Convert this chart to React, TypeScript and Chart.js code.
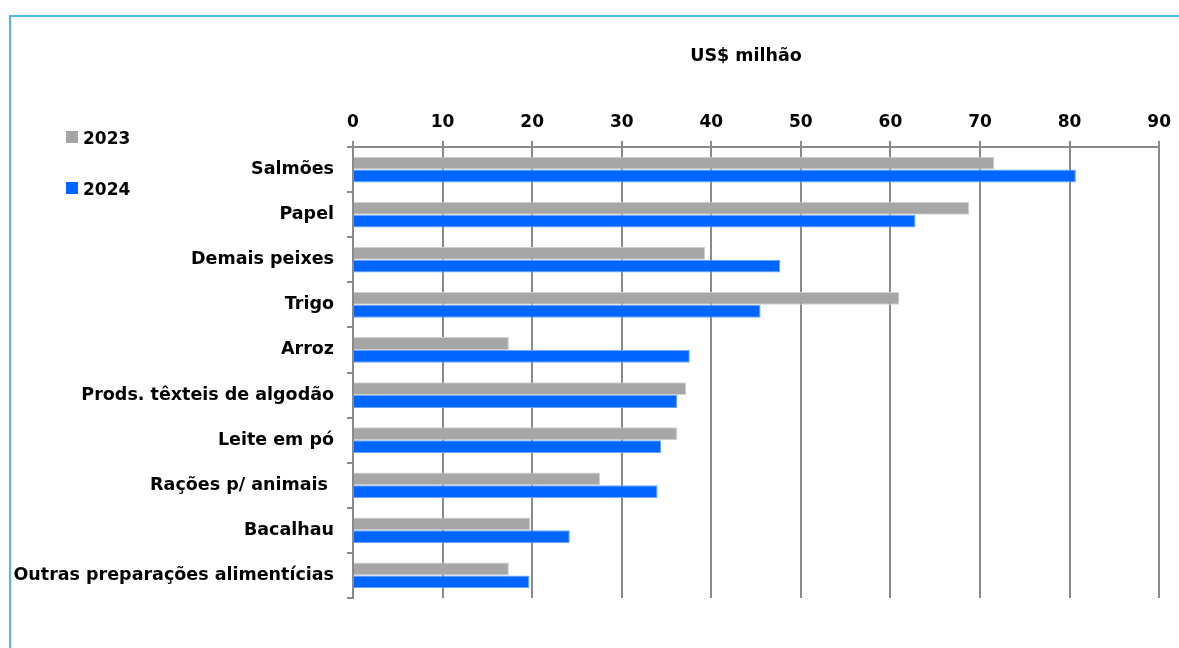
import React, { useEffect, useRef } from "react";
import { Chart, registerables } from "chart.js";

Chart.register(...registerables);

const categories = [
  "Salmões",
  "Papel",
  "Demais peixes",
  "Trigo",
  "Arroz",
  "Prods. têxteis de algodão",
  "Leite em pó",
  "Rações p/ animais ",
  "Bacalhau",
  "Outras preparações alimentícias",
];
const series2023 = [71.6, 68.8, 39.3, 61.0, 17.4, 37.2, 36.2, 27.6, 19.8, 17.4];
const series2024 = [80.7, 62.8, 47.7, 45.5, 37.6, 36.2, 34.4, 34.0, 24.2, 19.7];
const seriesNames = ["2023", "2024"];
const axisTitle = "US$ milhão";

const FONT = "'DejaVu Sans', sans-serif";
const GRAY = "#a6a6a6";
const BLUE = "#0066ff";
const GRID = "#8a8a8a";

const legendPlugin = {
  id: "leftLegend",
  afterDraw(chart: any) {
    const ctx = chart.ctx;
    ctx.save();
    ctx.font = `bold 17px ${FONT}`;
    ctx.textBaseline = "alphabetic";
    ctx.textAlign = "left";
    const items = [
      { label: seriesNames[0], color: GRAY, y: 131 },
      { label: seriesNames[1], color: BLUE, y: 182 },
    ];
    for (const it of items) {
      ctx.fillStyle = it.color;
      ctx.fillRect(66, it.y, 12, 12);
      ctx.fillStyle = "#000";
      ctx.fillText(it.label, 83, it.y + 13);
    }
    ctx.font = `bold 17.5px ${FONT}`;
    ctx.textAlign = "center";
    ctx.textBaseline = "middle";
    ctx.fillText(axisTitle, 746, 56);
    ctx.restore();
  },
};

export default function App() {
  const ref = useRef<HTMLCanvasElement | null>(null);

  useEffect(() => {
    document.body.style.margin = "0";
    const canvas = ref.current;
    if (!canvas) return;
    const chart = new Chart(canvas, {
      type: "bar",
      data: {
        labels: categories,
        datasets: [
          {
            label: seriesNames[0],
            data: series2023,
            backgroundColor: GRAY,
            borderColor: "#d0d0d0",
            borderWidth: 1,
          },
          {
            label: seriesNames[1],
            data: series2024,
            backgroundColor: BLUE,
            borderColor: "#6aa6ff",
            borderWidth: 1,
          },
        ],
      },
      options: {
        indexAxis: "y",
        animation: false,
        responsive: false,
        maintainAspectRatio: false,
        devicePixelRatio: 1,
        layout: { padding: { left: 0, top: 0, right: 19, bottom: 50 } },
        datasets: {
          bar: { categoryPercentage: 0.57, barPercentage: 1.0 },
        },
        plugins: {
          legend: { display: false },
          tooltip: { enabled: false },
        },
        scales: {
          x: {
            position: "top",
            min: 0,
            max: 90,
            ticks: {
              stepSize: 10,
              color: "#000",
              font: { family: FONT, size: 17, weight: "bold" },
              padding: 8,
            },
            grid: {
              color: GRID,
              lineWidth: 2,
              drawTicks: true,
              tickLength: 6,
              tickColor: GRID,
            },
            border: { display: true, color: GRID, width: 2 },
            afterFit(scale: any) {
              scale.height = 147;
            },
          },
          y: {
            ticks: {
              color: "#000",
              font: { family: FONT, size: 17.5, weight: "bold" },
              padding: 13,
            },
            grid: {
              drawOnChartArea: false,
              drawTicks: true,
              tickLength: 6,
              color: GRID,
              tickColor: GRID,
              lineWidth: 2,
            },
            border: { display: true, color: GRID, width: 2 },
            afterFit(scale: any) {
              scale.width = 353;
            },
          },
        },
      },
      plugins: [legendPlugin],
    } as any);
    return () => chart.destroy();
  }, []);

  return (
    <div
      style={{
        position: "relative",
        width: 1179,
        height: 648,
        overflow: "hidden",
        background: "#fff",
      }}
    >
      <div
        style={{
          position: "absolute",
          left: 9,
          top: 15,
          width: 1300,
          height: 800,
          borderLeft: "2px solid #4db8ea",
          borderTop: "2px solid #4db8ea",
          boxSizing: "border-box",
        }}
      />
      <canvas
        ref={ref}
        width={1179}
        height={648}
        style={{ position: "absolute", left: 0, top: 0, width: 1179, height: 648 }}
      />
    </div>
  );
}
